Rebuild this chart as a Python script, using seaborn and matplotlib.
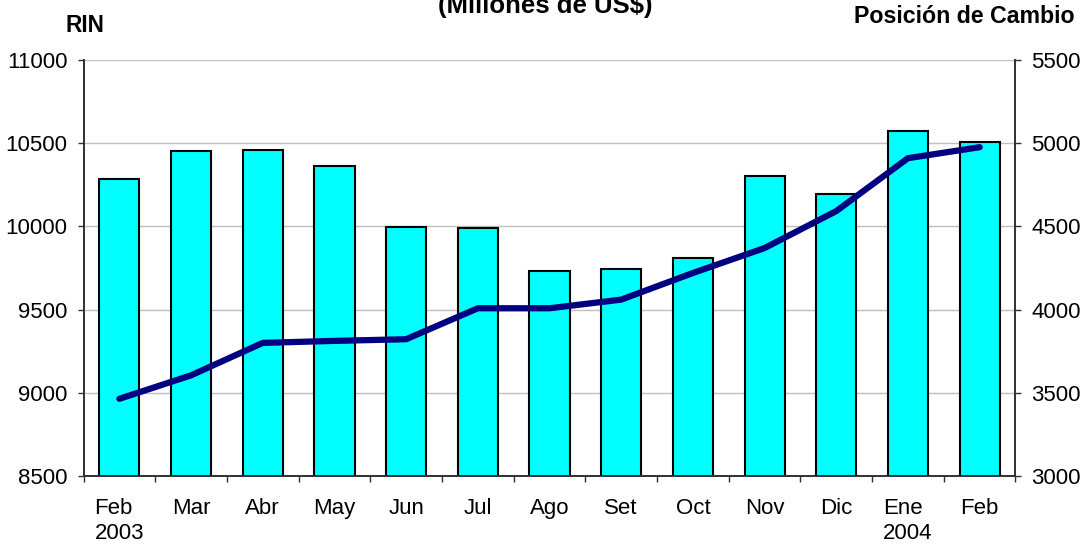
import numpy as np
import pandas as pd
import matplotlib
matplotlib.use("Agg")
import matplotlib.pyplot as plt
import seaborn as sns

# Data (Millones de US$)
meses = ["Feb\n2003", "Mar", "Abr", "May", "Jun", "Jul", "Ago", "Set",
         "Oct", "Nov", "Dic", "Ene\n2004", "Feb"]
rin = [10282, 10452, 10461, 10364, 9998, 9988, 9735, 9747,
       9810, 10304, 10195, 10573, 10510]
posicion_cambio = [3464, 3605, 3800, 3812, 3822, 4008, 4008, 4060,
                   4220, 4370, 4592, 4910, 4976]

df = pd.DataFrame({"mes": meses, "rin": rin, "pos": posicion_cambio})

sns.set_style("white")
plt.rcParams["font.family"] = ["Liberation Sans", "DejaVu Sans"]
plt.rcParams["text.color"] = "black"
plt.rcParams["xtick.color"] = "black"
plt.rcParams["ytick.color"] = "black"

fig = plt.figure(figsize=(10.89, 5.46), dpi=100)
ax = fig.add_axes([0.0767, 0.1282, 0.8558, 0.7619])

# bars - RIN on the left axis
sns.barplot(data=df, x="mes", y="rin", color="#00FFFF", saturation=1,
            width=0.56, edgecolor="black", linewidth=1.5, ax=ax, zorder=2)
ax.set_ylim(8500, 11000)
ax.set_yticks(np.arange(8500, 11001, 500))
ax.set_xlim(-0.5, len(meses) - 0.5)
ax.yaxis.grid(True, color="#c0c0c0", linewidth=1, zorder=0)
ax.set_axisbelow(True)
ax.set_xlabel("")
ax.set_ylabel("")

# line - Posicion de Cambio on the right axis
ax2 = ax.twinx()
sns.lineplot(data=df, x="mes", y="pos", sort=False, color="#000080",
             linewidth=4.5, ax=ax2, solid_capstyle="round", zorder=3)
ax2.set_ylim(3000, 5500)
ax2.set_yticks(np.arange(3000, 5501, 500))
ax2.set_ylabel("")
ax2.set_xlabel("")

# spines
for a in (ax, ax2):
    a.spines["top"].set_visible(False)
    for s in ("left", "right", "bottom"):
        a.spines[s].set_color("#303030")
        a.spines[s].set_linewidth(1.2)

# ticks
ax.tick_params(axis="y", direction="out", length=4.5, width=1, color="#303030",
               labelcolor="black", labelsize=16, pad=7, left=True)
ax2.tick_params(axis="y", direction="out", length=4.5, width=1, color="#303030",
                labelcolor="black", labelsize=16, pad=7, right=True)
ax.set_xticks(np.arange(len(meses)))
ax.set_xticklabels(meses)
ax.set_xticks(np.arange(-0.5, len(meses), 1), minor=True)
ax.tick_params(axis="x", which="major", length=0, labelsize=16, pad=16,
               labelcolor="black")
ax.tick_params(axis="x", which="minor", direction="out", length=4.5, width=1,
               color="#303030", bottom=True)
for lbl in ax.get_xticklabels():
    lbl.set_multialignment("left")
    lbl.set_linespacing(1.25)

# titles
fig.text(0.501, 0.977, "(Millones de US$)", ha="center", va="baseline",
         fontsize=18.5, fontweight="bold", color="black")
fig.text(0.0597, 0.9414, "RIN", ha="left", va="baseline",
         fontsize=16.3, fontweight="bold", color="black")
fig.text(0.987, 0.958, "Posición de Cambio", ha="right", va="baseline",
         fontsize=16.7, fontweight="bold", color="black")

plt.savefig("out.png", dpi=100)
